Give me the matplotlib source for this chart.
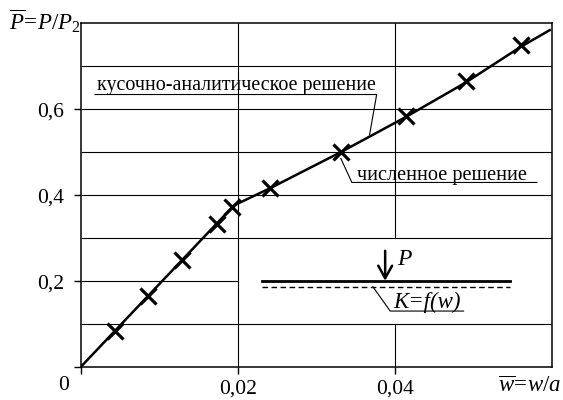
import matplotlib
matplotlib.use("Agg")
import matplotlib.pyplot as plt

# кусочно-аналитическое решение (кривая)
w_curve = [0.0, 0.0195, 0.0241, 0.0331, 0.0414, 0.0490, 0.0560, 0.0597]
p_curve = [0.0, 0.376, 0.416, 0.500, 0.582, 0.662, 0.745, 0.784]

# численное решение (крестики)
w_num = [0.00437, 0.00854, 0.01287, 0.01732, 0.01931, 0.0241, 0.0331, 0.0414, 0.0490, 0.0560]
p_num = [0.0844, 0.166, 0.249, 0.332, 0.373, 0.4156, 0.5007, 0.5837, 0.665, 0.749]

xticks = [0.0, 0.02, 0.04]
xlabels = ["", "0,02", "0,04"]
yticks = [0.0, 0.2, 0.4, 0.6]
ylabels = ["", "0,2", "0,4", "0,6"]

plt.rcParams['font.family'] = 'Liberation Serif'
plt.rcParams['mathtext.fontset'] = 'custom'
plt.rcParams['mathtext.rm'] = 'Liberation Serif'
plt.rcParams['mathtext.it'] = 'Liberation Serif:italic'

fig = plt.figure(figsize=(5.63, 4.0), dpi=100)
ax = fig.add_axes([0.1433, 0.0825, 0.9805 - 0.1433, 0.9418 - 0.0825])
ax.set_xlim(0, 0.06)
ax.set_ylim(0, 0.8)

# сетка (в области схемы линии убраны)
gl = dict(color='black', lw=0.8, zorder=1)
for y in [0.1, 0.3, 0.4, 0.5, 0.6, 0.7]:
    ax.hlines(y, 0, 0.06, **gl)
ax.hlines(0.2, 0, 0.02, **gl)
ax.vlines(0.02, 0, 0.8, **gl)
ax.vlines(0.04, 0, 0.1, **gl)
ax.vlines(0.04, 0.3, 0.8, **gl)

for s in ax.spines.values():
    s.set_linewidth(1.1)

ax.plot(w_curve, p_curve, color='black', lw=1.8, zorder=3)
ax.plot(w_num, p_num, ls='none', marker='x', ms=12, mew=2.3, color='black', zorder=4)

ax.set_xticks(xticks)
ax.set_xticklabels(xlabels)
ax.set_yticks(yticks)
ax.set_yticklabels(ylabels)
ax.tick_params(direction='out', length=5, width=1, labelsize=15.5)
ax.tick_params(axis='y', pad=7)
ax.tick_params(axis='x', pad=4)

fig.text(64 / 563, 1 - 386 / 400, "0", fontsize=15.5, ha='center', va='center')
fig.text(561 / 563, 1 - 386 / 400, r"$\overline{w}\!=\!w/a$", fontsize=16.5, ha='right', va='center')
fig.text(9 / 563, 1 - 30 / 400, r"$\overline{P}\!=\!P/P_2$", fontsize=16.5, ha='left', va='baseline')

# подписи с выносками
ax.plot([0.00182, 0.03768, 0.03677], [0.6342, 0.6342, 0.540], color='black', lw=0.8, zorder=2)
ax.text(0.00204, 0.6458, "кусочно-аналитическое решение", fontsize=14.4, ha='left', va='baseline')
ax.plot([0.03312, 0.03452, 0.05809], [0.4853, 0.4295, 0.4295], color='black', lw=0.8, zorder=2)
ax.text(0.03523, 0.4349, "численное решение", fontsize=14.6, ha='left', va='baseline')

# схема: балка на основании
ax.plot([0.02306, 0.0546], [0.2007, 0.2007], color='black', lw=2.0, zorder=2)
ax.plot([0.02306, 0.0546], [0.1867, 0.1867], color='black', lw=1.0, ls=(0, (4, 2.5)), zorder=2)
ax.annotate("", xy=(0.03876, 0.2007), xytext=(0.03876, 0.2705),
            arrowprops=dict(arrowstyle='->,head_length=0.45,head_width=0.25',
                            lw=1.8, color='black', mutation_scale=20,
                            shrinkA=0, shrinkB=0))
ax.text(0.04026, 0.2372, "P", fontsize=17, style='italic', ha='left', va='baseline')
ax.plot([0.0372, 0.0394, 0.04874], [0.1867, 0.1302, 0.1302], color='black', lw=0.8, zorder=2)
ax.text(0.03979, 0.1372, "K=f(w)", fontsize=16.5, style='italic', ha='left', va='baseline')

fig.savefig("out.png", dpi=100)
